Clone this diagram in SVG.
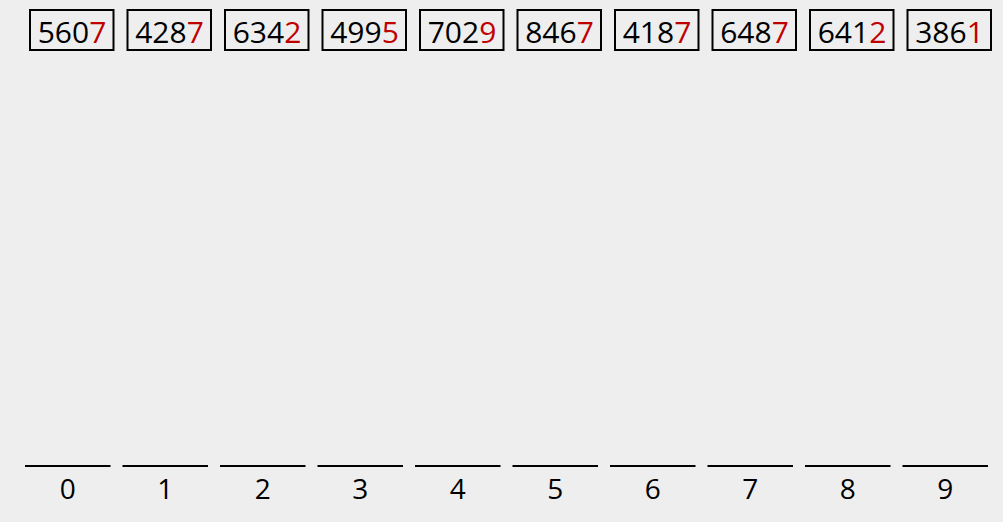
<svg xmlns="http://www.w3.org/2000/svg" width="1003" height="522" viewBox="0 0 1003 522">
<style>
.bg{fill:#eeeeee}
.box{fill:none;stroke:#000;stroke-width:2}
.num{font-family:"Segoe UI","Open Sans","Liberation Sans",sans-serif;font-size:30px;fill:#000;text-anchor:middle}
.r{fill:#c00000}
.bin{stroke:#000;stroke-width:2}
.lbl{font-family:"Segoe UI","Open Sans","Liberation Sans",sans-serif;font-size:28px;fill:#000;text-anchor:middle}
</style>
<rect class="bg" width="1003" height="522"/>
<g id="n0"><rect class="box" x="30" y="10" width="83.5" height="40"/><text class="num" x="72" y="43">560<tspan class="r">7</tspan></text></g>
<g id="n1"><rect class="box" x="127.5" y="10" width="83.5" height="40"/><text class="num" x="169.5" y="43">428<tspan class="r">7</tspan></text></g>
<g id="n2"><rect class="box" x="225" y="10" width="83.5" height="40"/><text class="num" x="267" y="43">634<tspan class="r">2</tspan></text></g>
<g id="n3"><rect class="box" x="322.5" y="10" width="83.5" height="40"/><text class="num" x="364.5" y="43">499<tspan class="r">5</tspan></text></g>
<g id="n4"><rect class="box" x="420" y="10" width="83.5" height="40"/><text class="num" x="462" y="43">702<tspan class="r">9</tspan></text></g>
<g id="n5"><rect class="box" x="517.5" y="10" width="83.5" height="40"/><text class="num" x="559.5" y="43">846<tspan class="r">7</tspan></text></g>
<g id="n6"><rect class="box" x="615" y="10" width="83.5" height="40"/><text class="num" x="657" y="43">418<tspan class="r">7</tspan></text></g>
<g id="n7"><rect class="box" x="712.5" y="10" width="83.5" height="40"/><text class="num" x="754.5" y="43">648<tspan class="r">7</tspan></text></g>
<g id="n8"><rect class="box" x="810" y="10" width="83.5" height="40"/><text class="num" x="852" y="43">641<tspan class="r">2</tspan></text></g>
<g id="n9"><rect class="box" x="907.5" y="10" width="83.5" height="40"/><text class="num" x="949.5" y="43">386<tspan class="r">1</tspan></text></g>
<g id="b0"><line class="bin" x1="25" y1="466" x2="110.5" y2="466"/><text class="lbl" x="67.8" y="499">0</text></g>
<g id="b1"><line class="bin" x1="122.5" y1="466" x2="208" y2="466"/><text class="lbl" x="165.3" y="499">1</text></g>
<g id="b2"><line class="bin" x1="220" y1="466" x2="305.5" y2="466"/><text class="lbl" x="262.8" y="499">2</text></g>
<g id="b3"><line class="bin" x1="317.5" y1="466" x2="403" y2="466"/><text class="lbl" x="360.3" y="499">3</text></g>
<g id="b4"><line class="bin" x1="415" y1="466" x2="500.5" y2="466"/><text class="lbl" x="457.8" y="499">4</text></g>
<g id="b5"><line class="bin" x1="512.5" y1="466" x2="598" y2="466"/><text class="lbl" x="555.3" y="499">5</text></g>
<g id="b6"><line class="bin" x1="610" y1="466" x2="695.5" y2="466"/><text class="lbl" x="652.8" y="499">6</text></g>
<g id="b7"><line class="bin" x1="707.5" y1="466" x2="793" y2="466"/><text class="lbl" x="750.3" y="499">7</text></g>
<g id="b8"><line class="bin" x1="805" y1="466" x2="890.5" y2="466"/><text class="lbl" x="847.8" y="499">8</text></g>
<g id="b9"><line class="bin" x1="902.5" y1="466" x2="988" y2="466"/><text class="lbl" x="945.3" y="499">9</text></g>
<g id="connectors"></g>
</svg>
